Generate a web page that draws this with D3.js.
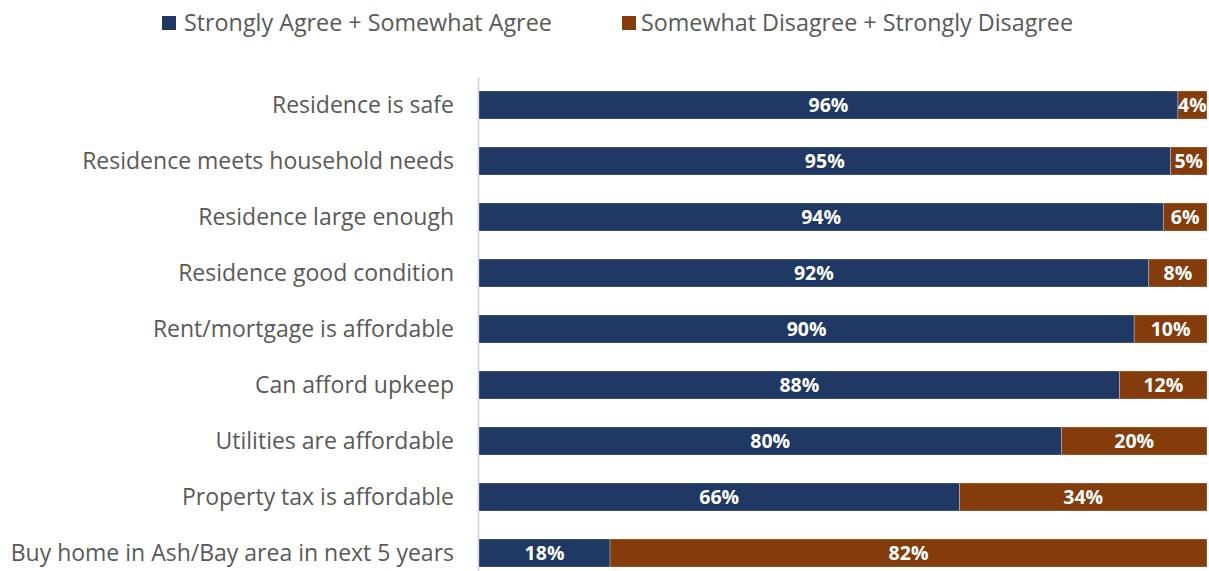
<!DOCTYPE html>
<html><head><meta charset="utf-8">
<script src="https://cdn.jsdelivr.net/npm/d3@7"></script>
<style>body{margin:0;background:#fff}svg{display:block}</style>
</head><body>
<svg id="c" width="1209" height="571"></svg>
<script>
const categories = ["Residence is safe","Residence meets household needs","Residence large enough","Residence good condition","Rent/mortgage is affordable","Can afford upkeep","Utilities are affordable","Property tax is affordable","Buy home in Ash/Bay area in next 5 years"];
const agree = [96,95,94,92,90,88,80,66,18];
const disagree = [4,5,6,8,10,12,20,34,82];
const seriesNames = ["Strongly Agree + Somewhat Agree","Somewhat Disagree + Strongly Disagree"];
const colors = ["#203864","#843C0C"];
const font = "'Open Sans', sans-serif";

const svg = d3.select("#c");
const x = d3.scaleLinear().domain([0,100]).range([479,1207]);
const y = d3.scaleBand().domain(categories).range([77,581]).paddingInner(0.5).paddingOuter(0.25);

svg.append("line").attr("x1",478.5).attr("x2",478.5).attr("y1",78).attr("y2",571)
  .attr("stroke","#d9d9d9").attr("stroke-width",2);

const data = categories.map((c,i)=>({c, a:agree[i], d:disagree[i]}));
const g = svg.append("g");
data.forEach(r=>{
  const segs = [{v0:0,v1:r.a,col:colors[0]},{v0:r.a,v1:r.a+r.d,col:colors[1]}];
  segs.forEach(s=>{
    g.append("rect").attr("x",x(s.v0)).attr("y",y(r.c)).attr("width",x(s.v1)-x(s.v0)).attr("height",y.bandwidth())
      .attr("fill",s.col).attr("stroke","#ffffff").attr("stroke-opacity",0.35).attr("stroke-width",0.75);
    g.append("text").attr("x",(x(s.v0)+x(s.v1))/2).attr("y",y(r.c)+y.bandwidth()/2)
      .attr("dy","0.36em").attr("text-anchor","middle").attr("fill","#fff")
      .attr("font-family",font).attr("font-weight","bold").attr("font-size",19.5)
      .text((s.v1-s.v0)+"%");
  });
});

svg.append("g").selectAll("text").data(categories).join("text")
  .attr("x",454).attr("y",d=>y(d)+y.bandwidth()/2).attr("dy","0.36em")
  .attr("text-anchor","end").attr("fill","#595959").attr("font-family",font).attr("font-size",23)
  .text(d=>d);

const leg = [{x:162,tx:184},{x:622,tx:641}];
seriesNames.forEach((n,i)=>{
  svg.append("rect").attr("x",leg[i].x).attr("y",16).attr("width",14).attr("height",14).attr("fill",colors[i]);
  svg.append("text").attr("x",leg[i].tx).attr("y",23).attr("dy","0.36em").attr("fill","#595959")
    .attr("font-family",font).attr("font-size",23.3).text(n);
});
</script>
</body></html>
